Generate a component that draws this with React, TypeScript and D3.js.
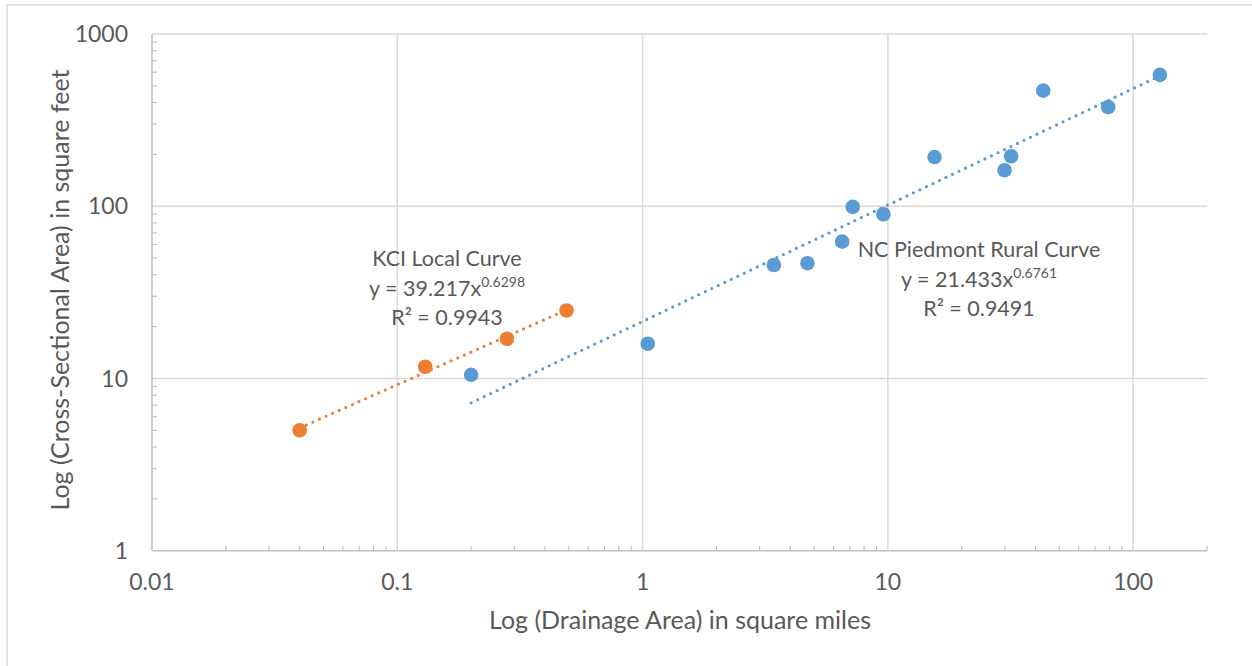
import React, { useEffect, useRef } from 'react';
import * as d3 from 'd3';

// Drainage area (sq mi) vs cross-sectional area (sq ft)
const kciArea = [0.04, 0.13, 0.28, 0.49];
const kciXsec = [5.0, 11.7, 17.0, 24.8];

const ncArea = [0.2, 1.05, 3.43, 4.7, 6.51, 7.19, 9.59, 15.5, 29.9, 31.8, 43.0, 79.1, 128.5];
const ncXsec = [10.5, 15.9, 45.6, 46.7, 62.3, 99.1, 89.8, 193, 161.8, 195, 469, 377, 579];

// power-law trendlines as shown on the chart (coef, exponent)
const kciFit = [39.217, 0.6298];
const ncFit = [21.433, 0.6761];

const kciLabel = ['KCI Local Curve', 'y = 39.217x', '0.6298', 'R² = 0.9943'];
const ncLabel = ['NC Piedmont Rural Curve', 'y = 21.433x', '0.6761', 'R² = 0.9491'];

const xTickLabels = ['0.01', '0.1', '1', '10', '100'];
const yTickLabels = ['1', '10', '100', '1000'];

const BLUE = '#5B9BD5';
const ORANGE = '#ED7D31';
const TEXT = '#595959';
const FONT = 'Lato, "Open Sans", sans-serif';

const App: React.FC = () => {
  const chartRef = useRef<SVGSVGElement | null>(null);

  useEffect(() => {
    renderChart();
  }, []);

  const renderChart = () => {
    const W = 1252, H = 666;
    const svg = d3.select(chartRef.current);
    svg.selectAll('*').remove();
    svg.attr('width', W).attr('height', H);

    const x = d3.scaleLog().domain([0.01, 200]).range([152, 1207]);
    const y = d3.scaleLog().domain([1, 1000]).range([550.7, 34]);
    const [x0, x1] = x.range();
    const [y0, y1] = y.range();

    // outer chart border
    svg.append('rect')
      .attr('x', 7).attr('y', 5).attr('width', W + 20).attr('height', H + 20)
      .attr('fill', 'white').attr('stroke', '#d9d9d9').attr('stroke-width', 1.5);

    const isMajor = (v: number) => Math.abs(Math.log10(v) - Math.round(Math.log10(v))) < 1e-9;

    // gridlines
    x.ticks().filter(isMajor).forEach(v => {
      if (x(v) <= x0 + 1) return;
      svg.append('line')
        .attr('x1', x(v)).attr('x2', x(v)).attr('y1', y1).attr('y2', y0)
        .attr('stroke', '#d9d9d9').attr('stroke-width', 1.5);
    });
    y.ticks().filter(isMajor).forEach(v => {
      if (y(v) >= y0 - 1) return;
      svg.append('line')
        .attr('x1', x0).attr('x2', x1).attr('y1', y(v)).attr('y2', y(v))
        .attr('stroke', '#d9d9d9').attr('stroke-width', 1.5);
    });

    // axes
    svg.append('line')
      .attr('x1', x0).attr('x2', x1).attr('y1', y0).attr('y2', y0)
      .attr('stroke', '#bfbfbf').attr('stroke-width', 1.5);
    svg.append('line')
      .attr('x1', x0).attr('x2', x0).attr('y1', y0).attr('y2', y1)
      .attr('stroke', '#bfbfbf').attr('stroke-width', 1.5);

    // minor ticks (inside)
    x.ticks().forEach(v => {
      if (isMajor(v)) return;
      svg.append('line')
        .attr('x1', x(v)).attr('x2', x(v)).attr('y1', y0).attr('y2', y0 - 5)
        .attr('stroke', '#bfbfbf').attr('stroke-width', 1.2);
    });
    y.ticks().forEach(v => {
      if (isMajor(v)) return;
      svg.append('line')
        .attr('x1', x0).attr('x2', x0 + 5).attr('y1', y(v)).attr('y2', y(v))
        .attr('stroke', '#bfbfbf').attr('stroke-width', 1.2);
    });

    // tick labels
    xTickLabels.forEach(t => {
      svg.append('text')
        .attr('x', x(+t)).attr('y', 590)
        .attr('text-anchor', 'middle')
        .style('font-family', FONT).style('font-size', '23px').style('fill', TEXT)
        .text(t);
    });
    yTickLabels.forEach(t => {
      svg.append('text')
        .attr('x', 128).attr('y', y(+t))
        .attr('dy', '0.35em')
        .attr('text-anchor', 'end')
        .style('font-family', FONT).style('font-size', '23px').style('fill', TEXT)
        .text(t);
    });

    // axis titles
    svg.append('text')
      .attr('x', 680).attr('y', 629)
      .attr('text-anchor', 'middle')
      .style('font-family', FONT).style('font-size', '25px').style('fill', TEXT)
      .text('Log (Drainage Area) in square miles');
    svg.append('text')
      .attr('transform', `translate(69,290) rotate(-90)`)
      .attr('text-anchor', 'middle')
      .style('font-family', FONT).style('font-size', '25px').style('fill', TEXT)
      .text('Log (Cross-Sectional Area) in square feet');

    // trendlines
    const line = d3.line<number>()
      .x(d => x(d[0]))
      .y(d => y(d[1]));
    const drawTrend = (xs: number[], fit: number[], color: string) => {
      const lo = d3.min(xs)!, hi = d3.max(xs)!;
      const pts: any = [lo, hi].map(v => [v, fit[0] * Math.pow(v, fit[1])]);
      svg.append('path')
        .attr('d', line(pts))
        .attr('fill', 'none')
        .attr('stroke', color)
        .attr('stroke-width', 3.2)
        .attr('stroke-linecap', 'round')
        .attr('stroke-dasharray', '0 7.2');
    };
    drawTrend(ncArea, ncFit, BLUE);
    drawTrend(kciArea, kciFit, ORANGE);

    // points
    const drawPoints = (xs: number[], ys: number[], color: string) => {
      svg.append('g').selectAll('circle')
        .data(xs)
        .enter().append('circle')
        .attr('cx', d => x(d))
        .attr('cy', (d, i) => y(ys[i]))
        .attr('r', 7.3)
        .attr('fill', color);
    };
    drawPoints(ncArea, ncXsec, BLUE);
    drawPoints(kciArea, kciXsec, ORANGE);

    // trendline labels
    const drawLabel = (lbl: string[], cx: number, top: number) => {
      const g = svg.append('g')
        .style('font-family', FONT).style('fill', TEXT);
      g.append('text')
        .attr('x', cx).attr('y', top)
        .attr('text-anchor', 'middle')
        .style('font-size', '21.5px')
        .text(lbl[0]);
      const eq = g.append('text')
        .attr('x', cx).attr('y', top + 30)
        .attr('text-anchor', 'middle')
        .style('font-size', '21.5px');
      eq.append('tspan').text(lbl[1]);
      eq.append('tspan')
        .attr('dy', -9)
        .style('font-size', '14px')
        .text(lbl[2]);
      g.append('text')
        .attr('x', cx).attr('y', top + 59)
        .attr('text-anchor', 'middle')
        .style('font-size', '21.5px')
        .text(lbl[3]);
    };
    drawLabel(kciLabel, 447, 266);
    drawLabel(ncLabel, 979, 257);
  };

  return (
    <div style={{ position: 'absolute', left: 0, top: 0 }}>
      <svg ref={chartRef} style={{ display: 'block' }}></svg>
    </div>
  );
};

export default App;
